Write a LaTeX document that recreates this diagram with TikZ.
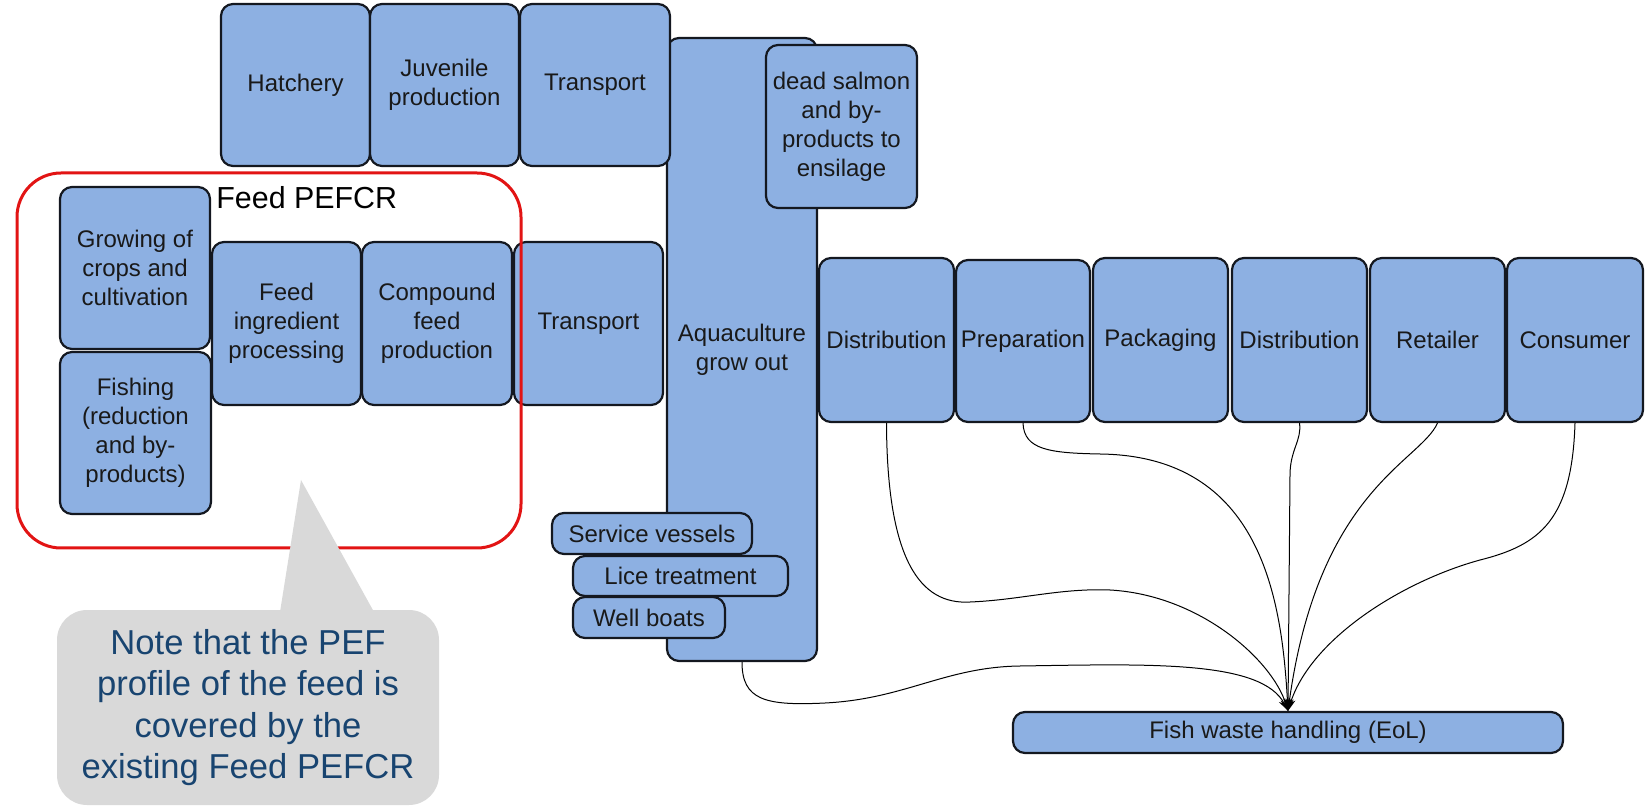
\documentclass[tikz,border=0pt]{standalone}
\usepackage{fontspec}
\setmainfont{Liberation Sans}
\usetikzlibrary{arrows.meta}
\definecolor{boxfill}{RGB}{141,176,226}
\definecolor{boxline}{RGB}{20,24,32}
\definecolor{notegray}{RGB}{217,217,217}
\definecolor{noteblue}{RGB}{24,68,112}
\definecolor{redline}{RGB}{226,20,20}
\begin{document}
\begin{tikzpicture}[x=0.5pt,y=-0.5pt,
 pbox/.style={draw=boxline, line width=1.1pt, fill=boxfill, rounded corners=6pt, inner sep=0pt, align=center, font=\fontsize{12}{14.5}\selectfont, text=black!90},
 bx/.style 2 args={minimum width=#1*0.5pt, minimum height=#2*0.5pt},
 flow/.style={black, line width=0.5pt, -{Stealth[length=6pt,width=4pt]}}
]
\useasboundingbox (0,0) rectangle (1650,807);

\node[pbox, bx={150}{623}] (aqua) at (742,349.5) {Aquaculture\\grow out};
\node[pbox, bx={149}{162}] (hatch) at (295.5,85) {Hatchery};
\node[pbox, bx={149}{162}] (juv) at (444.5,85) {Juvenile\\production};
\node[pbox, bx={150}{162}] (trtop) at (595,85) {Transport};
\node[pbox, bx={151}{163}] (dead) at (841.5,126.5) {dead salmon\\and by-\\products to\\ensilage};
\node[pbox, bx={150}{162}] (grow) at (135,268) {Growing of\\crops and\\cultivation};
\node[pbox, bx={151}{162}] (fish) at (135.5,433) {Fishing\\(reduction\\and by-\\products)};
\node[pbox, bx={149}{163}] (ingr) at (286.5,323.5) {Feed\\ingredient\\processing};
\node[pbox, bx={150}{163}] (comp) at (437,323.5) {Compound\\feed\\production};
\node[pbox, bx={149}{163}] (trmid) at (588.5,323.5) {Transport};
\node[pbox, bx={135}{164}] (dist1) at (886.5,340) {Distribution};
\node[pbox, bx={134}{162}] (prep) at (1023,341) {Preparation};
\node[pbox, bx={135}{164}] (pack) at (1160.5,340) {Packaging};
\node[pbox, bx={135}{164}] (dist2) at (1299.5,340) {Distribution};
\node[pbox, bx={135}{164}] (ret) at (1437.5,340) {Retailer};
\node[pbox, bx={136}{164}] (cons) at (1575,340) {Consumer};
\node[pbox, bx={200}{41}] (serv) at (652,533.5) {Service vessels};
\node[pbox, bx={215}{40}] (lice) at (680.5,576) {Lice treatment};
\node[pbox, bx={152}{41}] (well) at (649,617.5) {Well boats};
\node[pbox, bx={550}{41}] (eol) at (1288,732.5) {Fish waste handling (EoL)};

\draw[flow] (aqua.south) .. controls (742,700) and (765,706) .. (825,703)
  .. controls (905,699) and (945,667) .. (1020,666)
  .. controls (1150,664) and (1262,660) .. (eol.north);
\draw[flow] (dist1.south) .. controls (887,560) and (920,605) .. (970,602)
  .. controls (1020,600) and (1060,588) .. (1110,590)
  .. controls (1200,595) and (1272,660) .. (eol.north);
\draw[flow] (prep.south) .. controls (1024,450) and (1050,453) .. (1100,454)
  .. controls (1262,456) and (1282,600) .. (eol.north);
\draw[flow] (dist2.south) .. controls (1302,440) and (1290,450) .. (1290,475) -- (eol.north);
\draw[flow] (ret.south) .. controls (1420,462) and (1318,490) .. (eol.north);
\draw[flow] (cons.south) .. controls (1572,520) and (1540,545) .. (1480,560)
  .. controls (1400,582) and (1310,640) .. (eol.north);

\node[draw=redline, line width=1.5pt, rounded corners=22pt, bx={504}{375}] (pefcr) at (269,360.5) {};
\node[anchor=base west, inner sep=0pt, font=\fontsize{15.2}{18}\selectfont] (pefcrlabel) at (216,209) {Feed PEFCR};

\node[fill=notegray, rounded corners=15pt, bx={382}{195}, inner sep=0pt, align=center,
  text=noteblue, font=\fontsize{17.3}{20.8}\selectfont] (note) at (248,707.5)
  {Note that the PEF\\profile of the feed is\\covered by the\\existing Feed PEFCR};
\fill[notegray] (280,612) -- (301,480) -- (374,612) -- cycle;
\end{tikzpicture}
\end{document}
